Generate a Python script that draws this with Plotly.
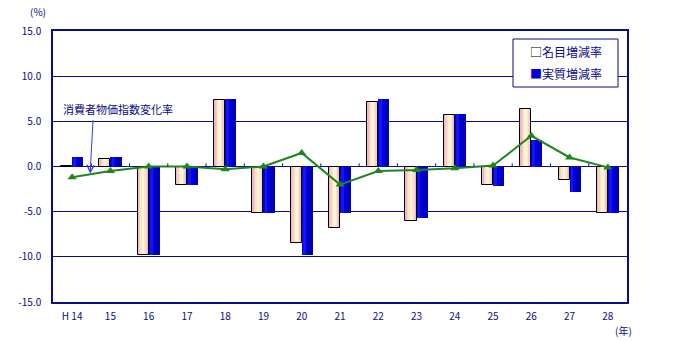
import plotly.graph_objects as go

# 年（平成）
years = ["H 14", "15", "16", "17", "18", "19", "20", "21", "22", "23", "24", "25", "26", "27", "28"]
# 名目増減率（%）
nominal = [0.1, 0.8, -9.8, -2.1, 7.4, -5.1, -8.5, -6.8, 7.1, -6.0, 5.7, -2.1, 6.4, -1.5, -5.2]
# 実質増減率（%）
real = [1.1, 1.1, -9.8, -2.1, 7.5, -5.2, -9.8, -5.1, 7.5, -5.7, 5.8, -2.2, 2.9, -2.8, -5.2]
# 消費者物価指数変化率（%）
cpi = [-1.2, -0.5, 0.0, 0.0, -0.3, 0.0, 1.5, -2.0, -0.5, -0.4, -0.2, 0.1, 3.4, 1.0, -0.1]

y_ticks = [-15, -10, -5, 0, 5, 10, 15]
y_tick_text = [f"{v:.1f}" for v in y_ticks]

NAVY = "#0A0A8C"
FONT = "Noto Sans CJK JP"
x = list(range(len(years)))
W = 0.29  # width of one bar in category units

# plot area in pixels (for placing free text in paper coordinates)
L, R, T, B = 53, 54, 31, 40
FW, FH = 681, 342
PW, PH = FW - L - R, FH - T - B


def px(xp):
    return (xp - L) / PW


def py(yp):
    return 1 - (yp - T) / PH


fig = go.Figure()

# 名目: pink-to-cream shading built from nested bars of decreasing width
nominal_layers = [(1.0, "#F4B6C4"), (0.72, "#F8CDCB"), (0.48, "#FCE6C8"), (0.24, "#FFF8D2")]
for frac, col in nominal_layers:
    w = W * frac
    fig.add_trace(go.Bar(
        x=x, y=nominal, width=w, offset=-W / 2 - w / 2,
        marker=dict(color=col, line=dict(width=0)),
        showlegend=False, hoverinfo="skip",
    ))
fig.add_trace(go.Bar(
    x=x, y=nominal, width=W, offset=-W,
    marker=dict(color="rgba(255,255,255,0)", line=dict(color="black", width=1)),
    name="名目増減率", showlegend=False,
))

# 実質: blue, brighter on the left side
fig.add_trace(go.Bar(
    x=x, y=real, width=W, offset=0,
    marker=dict(color="#0000B8", line=dict(width=0)),
    name="実質増減率", showlegend=False,
))
fig.add_trace(go.Bar(
    x=x, y=real, width=W * 0.6, offset=0,
    marker=dict(color="#0000E0", line=dict(width=0)),
    showlegend=False, hoverinfo="skip",
))
fig.add_trace(go.Bar(
    x=x, y=real, width=W * 0.25, offset=W * 0.1,
    marker=dict(color="#1414F5", line=dict(width=0)),
    showlegend=False, hoverinfo="skip",
))

# 消費者物価指数変化率
fig.add_trace(go.Scatter(
    x=x, y=cpi, mode="lines+markers",
    line=dict(color="#1F861F", width=2),
    marker=dict(symbol="triangle-up", size=8, color="#1F861F"),
    showlegend=False, name="消費者物価指数変化率",
))

# small category ticks along the zero line
for k in range(1, len(years)):
    fig.add_shape(type="line", xref="x", yref="y", x0=k - 0.5, x1=k - 0.5,
                  y0=0, y1=0.35, line=dict(color=NAVY, width=1))

# legend box
fig.add_shape(type="rect", xref="paper", yref="paper",
              x0=px(513), x1=px(618), y0=py(87), y1=py(39),
              line=dict(color=NAVY, width=1), fillcolor="white", layer="above")

fig.update_layout(
    width=FW, height=FH,
    margin=dict(l=L, r=R, t=T, b=B),
    paper_bgcolor="white", plot_bgcolor="white",
    barmode="overlay", bargap=0, showlegend=False,
    font=dict(family=FONT, size=10, color=NAVY),
)

# legend entries
fig.add_annotation(x=px(528), y=py(51), xref="paper", yref="paper",
                   xanchor="left", yanchor="middle", showarrow=False,
                   text="<span style='color:#000000'>□</span>名目増減率",
                   font=dict(family=FONT, size=12, color=NAVY))
fig.add_annotation(x=px(528), y=py(73), xref="paper", yref="paper",
                   xanchor="left", yanchor="middle", showarrow=False,
                   text="<span style='color:#0000DD'>■</span>実質増減率",
                   font=dict(family=FONT, size=12, color=NAVY))

# pointer from the label to the price-index line
fig.add_annotation(x=0.47, y=-0.8, xref="x", yref="y", text="", showarrow=True,
                   ax=3, ay=-55, arrowhead=5, arrowsize=1.4, arrowwidth=1,
                   arrowcolor="#3A3AF0")
fig.add_annotation(x=px(118), y=py(109), xref="paper", yref="paper",
                   xanchor="center", yanchor="middle",
                   text="消費者物価指数変化率", showarrow=False,
                   font=dict(family=FONT, size=11, color=NAVY))
fig.add_annotation(x=px(38), y=py(11), xref="paper", yref="paper",
                   xanchor="center", yanchor="middle",
                   text="(%)", showarrow=False, font=dict(family=FONT, size=10, color=NAVY))
fig.add_annotation(x=px(623), y=py(330), xref="paper", yref="paper",
                   xanchor="center", yanchor="middle",
                   text="(年)", showarrow=False, font=dict(family=FONT, size=10, color=NAVY))

fig.update_xaxes(
    range=[-0.5, len(years) - 0.5], tickvals=x, ticktext=years,
    showgrid=False, zeroline=False, showline=True, linecolor=NAVY, linewidth=1.5,
    mirror=True, ticks="", ticklabelstandoff=4,
    tickfont=dict(family=FONT, size=10, color=NAVY),
)
fig.update_yaxes(
    range=[-15, 15], tickvals=y_ticks, ticktext=y_tick_text,
    showgrid=True, gridcolor=NAVY, gridwidth=1,
    zeroline=True, zerolinecolor=NAVY, zerolinewidth=1,
    showline=True, linecolor=NAVY, linewidth=1.5, mirror=True, ticks="",
    ticklabelstandoff=8,
    tickfont=dict(family=FONT, size=10, color=NAVY),
)

fig.write_html("out.html")
